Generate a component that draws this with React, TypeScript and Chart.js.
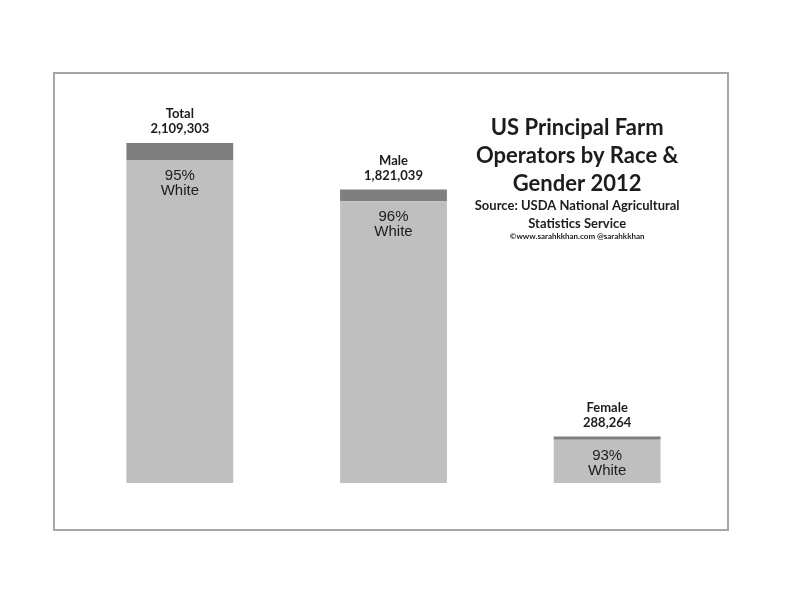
import React, { useEffect, useRef } from "react";
import { Chart, registerables } from "chart.js";

Chart.register(...registerables);

const categories = ["Total", "Male", "Female"];
const totals = [2109303, 1821039, 288264];
const whitePct = ["95%", "96%", "93%"];
const whiteValues = [2003838, 1748197, 268086];
const nonWhiteValues = [105465, 72842, 20178];
const titleLines = ["US Principal Farm", "Operators by Race &", "Gender 2012"];
const sourceLines = ["Source: USDA National Agricultural", "Statistics Service"];
const creditLine = "©www.sarahkkhan.com @sarahkkhan";

const TEXT = "#1c1c1c";

const overlayPlugin = {
  id: "overlay",
  beforeDraw(chart: any) {
    const ctx = chart.ctx;
    ctx.save();
    ctx.fillStyle = "#ffffff";
    ctx.fillRect(0, 0, chart.width, chart.height);
    ctx.strokeStyle = "#a6a6a6";
    ctx.lineWidth = 2;
    ctx.strokeRect(54, 73, 674, 457);
    ctx.restore();
  },
  afterDatasetsDraw(chart: any) {
    const ctx = chart.ctx;
    const x = chart.scales.x;
    const y = chart.scales.y;
    ctx.save();
    ctx.fillStyle = TEXT;
    ctx.textAlign = "center";
    ctx.textBaseline = "middle";
    categories.forEach((c, i) => {
      const cx = x.getPixelForValue(i);
      const top = y.getPixelForValue(totals[i]);
      const whiteTop = y.getPixelForValue(whiteValues[i]);
      ctx.font = "bold 13px Lato";
      ctx.fillText(c, cx, top - 29);
      ctx.fillText(totals[i].toLocaleString("en-US"), cx, top - 14);
      ctx.font = "15px 'Liberation Sans'";
      ctx.fillText(whitePct[i], cx, whiteTop + 16);
      ctx.fillText("White", cx, whiteTop + 31);
    });
    const tx = x.getPixelForValue(2) - 30;
    ctx.font = "bold 22px Lato";
    titleLines.forEach((t, k) => ctx.fillText(t, tx, 128 + k * 28));
    ctx.font = "bold 13px Lato";
    sourceLines.forEach((t, k) => ctx.fillText(t, tx, 206 + k * 18));
    ctx.font = "bold 8px Lato";
    ctx.fillText(creditLine, tx, 236);
    ctx.restore();
  },
};

export default function App() {
  const ref = useRef<HTMLCanvasElement>(null);
  useEffect(() => {
    if (!ref.current) return;
    const chart = new Chart(ref.current, {
      type: "bar",
      data: {
        labels: categories,
        datasets: [
          { label: "White", data: whiteValues, backgroundColor: "#bfbfbf", borderWidth: 0 },
          { label: "Non-white", data: nonWhiteValues, backgroundColor: "#7f7f7f", borderWidth: 0 },
        ],
      },
      options: {
        animation: false,
        responsive: false,
        maintainAspectRatio: false,
        layout: { padding: { left: 73, right: 78, top: 80, bottom: 129 } },
        datasets: { bar: { categoryPercentage: 1, barPercentage: 0.5 } },
        scales: {
          x: { stacked: true, display: false },
          y: { stacked: true, display: false, min: 0, max: 2500000 },
        },
        plugins: { legend: { display: false }, tooltip: { enabled: false }, title: { display: false } },
      },
      plugins: [overlayPlugin],
    });
    return () => chart.destroy();
  }, []);
  return (
    <div style={{ position: "fixed", left: 0, top: 0, width: 792, height: 612, background: "#fff" }}>
      <canvas ref={ref} width={792} height={612} style={{ width: 792, height: 612 }} />
    </div>
  );
}
